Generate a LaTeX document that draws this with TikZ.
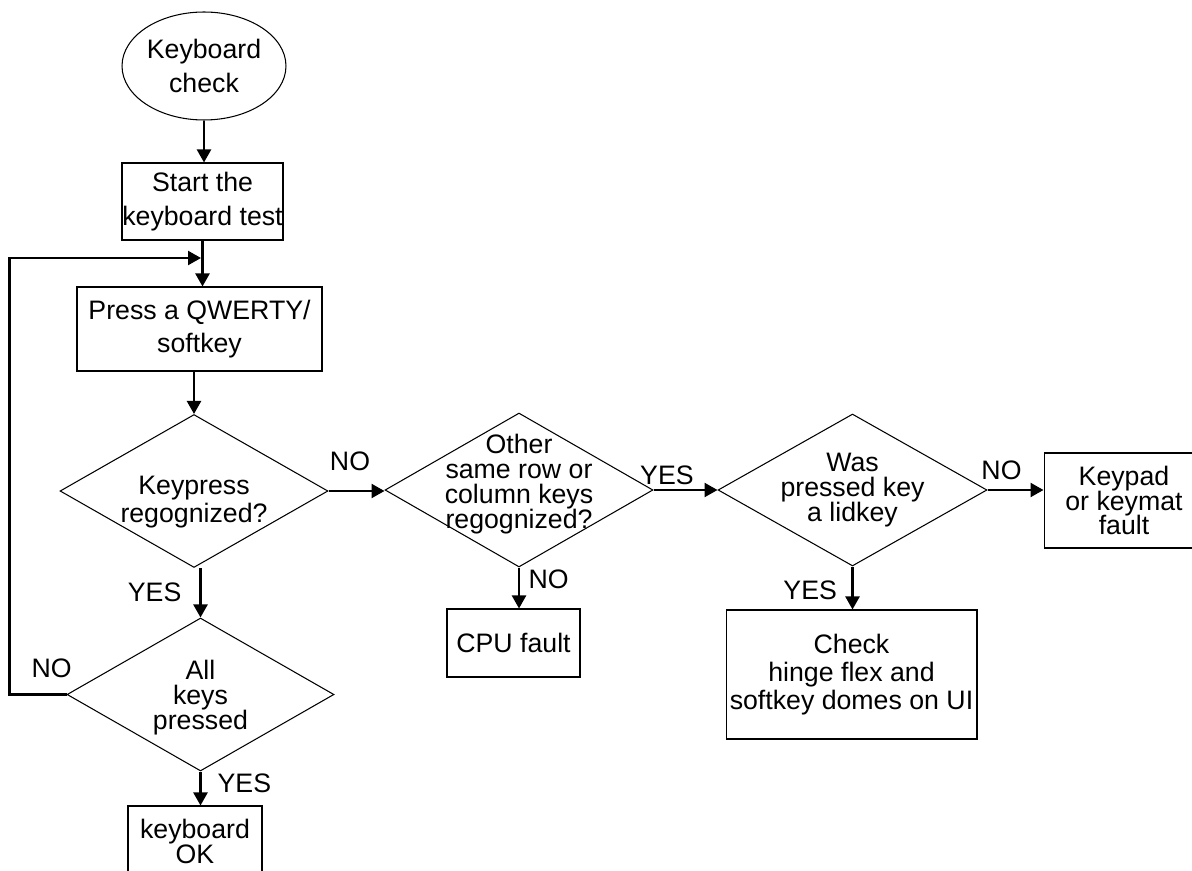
\documentclass[tikz,border=0pt]{standalone}
\usepackage{fontspec}
\setmainfont{Liberation Sans}
\usetikzlibrary{shapes, arrows.meta, positioning}

\tikzset{
  txt/.style={font=\fontsize{15.2}{14.2}\selectfont, align=center},
  loose/.style={font=\fontsize{15.2}{19}\selectfont, align=center},
  box/.style={draw, rectangle, line width=0.6pt, inner sep=0pt},
  decision/.style={draw, diamond, line width=0.6pt, inner sep=0pt},
  flow/.style={line width=1.3pt, -{Triangle[length=0.26cm, width=0.28cm]}},
  lbl/.style={txt, inner sep=0pt}
}

\begin{document}
\begin{tikzpicture}[x=0.02cm, y=-0.02cm]
\useasboundingbox (0,0) rectangle (1192,871);
\clip (0,0) rectangle (1192,871);

\node[draw, ellipse, line width=0.6pt, inner sep=0pt, minimum width=3.28cm, minimum height=2.16cm, loose] (chk) at (204,66) {Keyboard\\check};
\node[box, loose, minimum width=3.22cm, minimum height=1.54cm] (start) at (202.5,201.5) {Start the\\keyboard test};
\node[box, loose, minimum width=4.9cm, minimum height=1.68cm] (press) at (199.5,329) {Press a QWERTY/\\softkey};
\node[decision, minimum width=5.36cm, minimum height=3.06cm, label={[txt, font=\fontsize{15.2}{16.4}\selectfont, yshift=-0.22cm]center:{Keypress\\regognized?}}] (keyp) at (194,491) {};
\node[decision, minimum width=5.34cm, minimum height=3.06cm, label={[txt, yshift=-0.07cm]center:{All\\keys\\pressed}}] (allk) at (200.5,694.5) {};
\node[box, txt, minimum width=2.68cm, minimum height=1.4cm] (okbox) at (195,841) {keyboard\\OK};
\node[decision, minimum width=5.36cm, minimum height=3.08cm, label={[txt, yshift=0.12cm]center:{Other\\same row or\\column keys\\regognized?}}] (other) at (519,490) {};
\node[box, txt, minimum width=2.66cm, minimum height=1.36cm] (cpu) at (513.5,643) {CPU fault};
\node[decision, minimum width=5.38cm, minimum height=3.04cm, label={[txt]center:{Was\\pressed key\\a lidkey}}] (was) at (852.5,490) {};
\node[box, txt, minimum width=3.2cm, minimum height=1.9cm] (keypad) at (1124,500.5) {Keypad\\or keymat\\fault};
\node[box, txt, font=\fontsize{15.2}{15.9}\selectfont, minimum width=5.02cm, minimum height=2.58cm] (check) at (851.5,674.5) {Check\\hinge flex and\\softkey domes on UI};
\coordinate (loopin) at (201,258);

\draw[flow] (chk.south) -- (chk.south |- start.north);
\draw[flow] (start.south) -- (start.south |- press.north);
\draw[flow] (press.south -| keyp.north) -- (keyp.north);
\draw[flow] (keyp.east) -- node[lbl, above=0.39cm, xshift=-0.13cm] (no1) {NO} (keyp.east -| other.west);
\draw[flow] (allk.north |- keyp.south) -- node[lbl, left=0.36cm] (yes1) {YES} (allk.north);
\draw[flow] (allk.south) -- node[lbl, pos=0.35, right=0.32cm] (yes2) {YES} (allk.south |- okbox.north);
\draw[flow] (allk.west) -- node[lbl, pos=0.26, above=0.31cm] (no2) {NO} ++(-57,0) |- (loopin);
\draw[flow] (other.south) -- node[lbl, pos=0.29, right=0.17cm] (no3) {NO} (other.south |- cpu.north);
\draw[flow] (other.east) -- node[lbl, pos=0.21, above=0.09cm] (yes3) {YES} (other.east -| was.west);
\draw[flow] (was.east) -- node[lbl, pos=0.25, above=0.19cm] (no4) {NO} (was.east -| keypad.west);
\draw[flow] (was.south) -- node[lbl, pos=0.56, left=0.29cm] (yes4) {YES} (was.south |- check.north);
\end{tikzpicture}
\end{document}
